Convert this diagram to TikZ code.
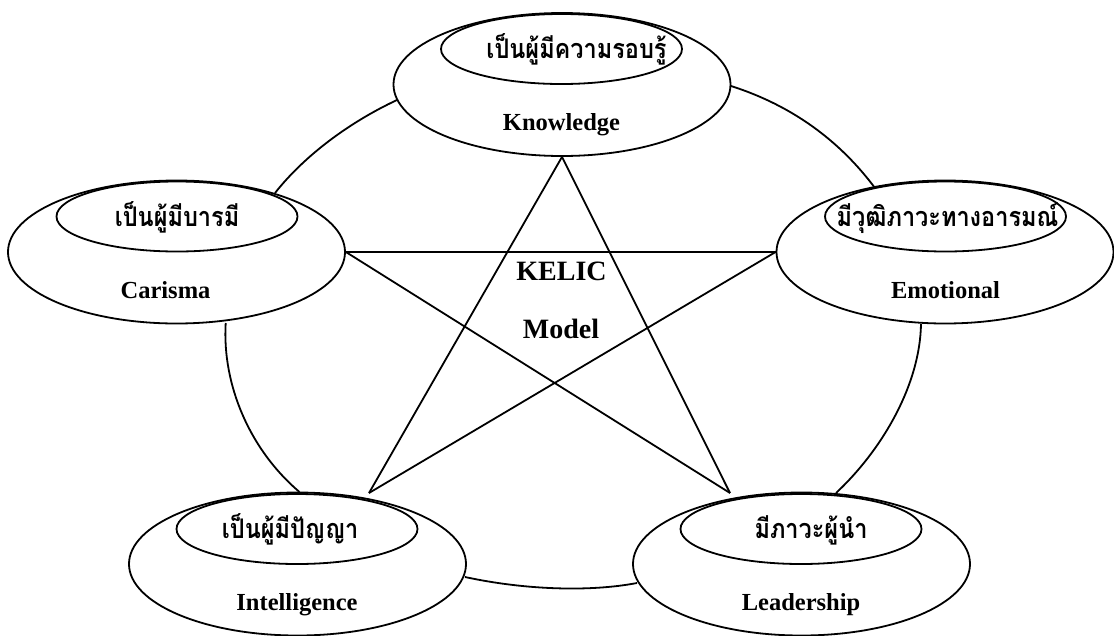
\documentclass[tikz,border=0pt]{standalone}
\usepackage{fontspec}
\setmainfont{Liberation Serif}
\newfontfamily\thaifont[Script=Thai,FakeStretch=0.87]{Loma}
\usetikzlibrary{shapes.geometric}
\newcommand{\thaitext}[2]{\makebox[0pt]{\hspace{#1}\smash{\raisebox{-9.5pt}{#2}}}}
\tikzset{
  x=1pt,y=-1pt,
  outerell/.style={ellipse,draw,line width=1.8pt,inner sep=0pt,minimum width=337pt,minimum height=143pt},
  innerell/.style={ellipse,draw,line width=1.8pt,inner sep=0pt,minimum width=241pt,minimum height=70pt,font=\thaifont\bfseries\fontsize{27}{29}\selectfont},
  engl/.style={font=\bfseries\fontsize{24.5}{27}\selectfont,inner sep=0pt,anchor=base},
  titl/.style={font=\bfseries\fontsize{28}{31}\selectfont,inner sep=0pt,anchor=base},
  link/.style={line width=1.8pt}
}
\begin{document}
\begin{tikzpicture}
\useasboundingbox (0,0) rectangle (1114,635);
\node[outerell] (kno) at (562,84.5) {};
\node[outerell] (emo) at (945,252) {};
\node[outerell] (car) at (176.5,252) {};
\node[outerell] (int) at (297.5,564) {};
\node[outerell] (lea) at (801.5,564) {};
\node[innerell] (kno2) at (561.5,49) {\thaitext{30pt}{เป็นผู้มีความรอบรู้}};
\node[innerell] (emo2) at (945.5,216.5) {\thaitext{4pt}{มีวุฒิภาวะทางอารมณ์}};
\node[innerell] (car2) at (177,216.5) {\thaitext{0pt}{เป็นผู้มีบารมี}};
\node[innerell] (int2) at (297,529) {\thaitext{-14pt}{เป็นผู้มีปัญญา}};
\node[innerell] (lea2) at (801,529) {\thaitext{20pt}{มีภาวะผู้นำ}};
\node[engl] (kno3) at (561.5,130) {Knowledge};
\node[engl] (emo3) at (945.5,298) {Emotional};
\node[engl] (car3) at (165.5,298) {Carisma};
\node[engl] (int3) at (297,610) {Intelligence};
\node[engl] (lea3) at (801,610) {Leadership};
\node[titl] (t1) at (561.5,280) {KELIC};
\node[titl] (t2) at (561,338) {Model};
\coordinate (tipi) at (369,493);
\coordinate (tipl) at (730,493);
\draw[link] (kno.south) -- (tipi);
\draw[link] (kno.south) -- (tipl);
\draw[link] (car.east) -- (emo.west);
\draw[link] (car.east) -- (tipl);
\draw[link] (emo.west) -- (tipi);
\coordinate (ak) at (397,100);
\coordinate (ac) at (275,193);
\coordinate (ke) at (730,85.7);
\coordinate (ek) at (874,186.7);
\coordinate (el) at (921,324);
\coordinate (le) at (836,493);
\coordinate (li) at (637,583);
\coordinate (il) at (465,577);
\coordinate (ic) at (299.5,492);
\coordinate (ci) at (225.7,323);
\draw[link] (ac) .. controls (305,155) and (350,122) .. (ak);
\draw[link] (ke) .. controls (785,103) and (835,135) .. (ek);
\draw[link] (el) .. controls (920,385) and (882,450) .. (le);
\draw[link] (li) .. controls (590,592) and (525,590) .. (il);
\draw[link] (ic) .. controls (250,450) and (222,385) .. (ci);
\end{tikzpicture}
\end{document}
